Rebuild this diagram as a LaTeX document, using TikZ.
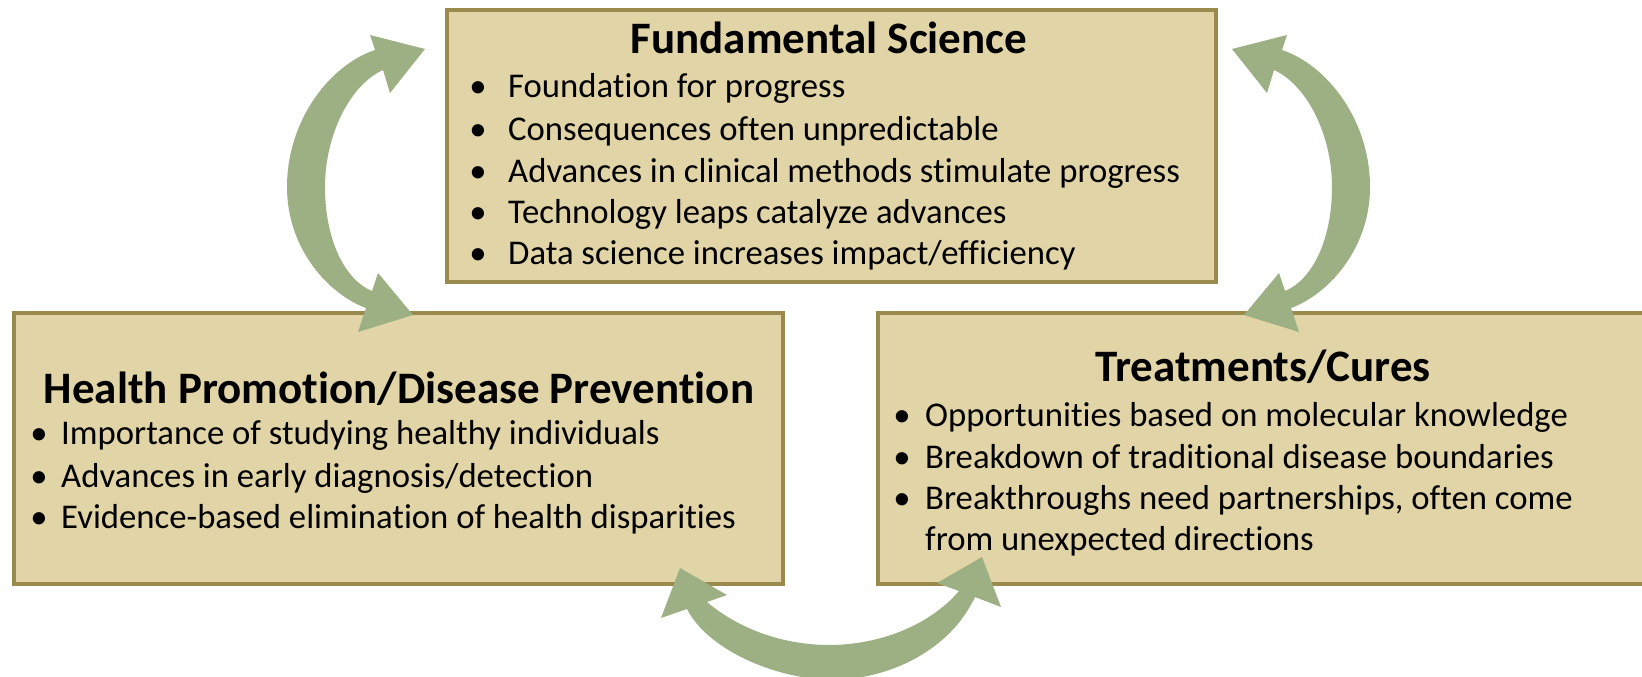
\documentclass[tikz,border=0pt]{standalone}
\usepackage{fontspec}
\setmainfont{Carlito}[Ligatures=NoCommon]
\definecolor{boxfill}{RGB}{225,212,166}
\definecolor{boxline}{RGB}{155,138,78}
\definecolor{arrgreen}{RGB}{156,176,132}
\tikzset{
  box/.style={draw=boxline, line width=4pt, fill=boxfill, minimum width=769pt, minimum height=271pt, inner sep=0pt},
  ttl/.style={anchor=base, inner sep=0pt, font=\fontsize{45}{54}\selectfont\bfseries},
  bul/.style={anchor=base, inner sep=0pt, font=\fontsize{34.7}{42}\selectfont},
  itm/.style={anchor=base west, inner sep=0pt, font=\fontsize{34.7}{42}\selectfont},
  arr/.style={fill=arrgreen, draw=none}
}
\newcommand\sidearrow{%
  (425,49) -- (370,35) -- (375,50) .. controls (330,65) and (287,120) .. (287,187)
  .. controls (287,250) and (330,295) .. (366,308) -- (358,332) -- (413,315) -- (378,273)
  -- (372,291) .. controls (345,280) and (325,240) .. (325,187)
  .. controls (325,135) and (350,85) .. (383,70) -- (390,93) -- cycle}
\begin{document}
\begin{tikzpicture}[x=1pt,y=-1pt]
\clip (0,0) rectangle (1642,677);
\fill[white] (0,0) rectangle (1642,677);
% boxes
\node[box] (fs) at (831.5,146) {};
\node[box] (hp) at (398.5,448.5) {};
\node[box] (tc) at (1262.5,448.5) {};
% top box text
\node[ttl] (fst) at (829,54) {Fundamental Science};
\node[bul] (fsb1) at (478,98) {•};
\node[itm] (fs1) at (508,98) {Foundation for progress};
\node[bul] (fsb2) at (478,140) {•};
\node[itm] (fs2) at (508,140) {Consequences often unpredictable};
\node[bul] (fsb3) at (478,182) {•};
\node[itm] (fs3) at (508,182) {Advances in clinical methods stimulate progress};
\node[bul] (fsb4) at (478,223) {•};
\node[itm] (fs4) at (508,223) {Technology leaps catalyze advances};
\node[bul] (fsb5) at (478,264) {•};
\node[itm] (fs5) at (508,264) {Data science increases impact/efficiency};
% left box text
\node[ttl] (hpt) at (399,403) {Health Promotion/Disease Prevention};
\node[bul] (hpb1) at (39,444) {•};
\node[itm] (hp1) at (61,444) {Importance of studying healthy individuals};
\node[bul] (hpb2) at (39,487) {•};
\node[itm] (hp2) at (61,487) {Advances in early diagnosis/detection};
\node[bul] (hpb3) at (39,528) {•};
\node[itm] (hp3) at (61,528) {Evidence-based elimination of health disparities};
% right box text
\node[ttl] (tct) at (1263,381) {Treatments/Cures};
\node[bul] (tcb1) at (902,426) {•};
\node[itm] (tc1) at (925,426) {Opportunities based on molecular knowledge};
\node[bul] (tcb2) at (902,468) {•};
\node[itm] (tc2) at (925,468) {Breakdown of traditional disease boundaries};
\node[bul] (tcb3) at (902,509) {•};
\node[itm] (tc3) at (925,509) {Breakthroughs need partnerships, often come};
\node[itm] (tc4) at (925,550) {from unexpected directions};
% arrows
\fill[arr] \sidearrow;
\begin{scope}[xshift=1657pt,xscale=-1]
\fill[arr] \sidearrow;
\end{scope}
\fill[arr] (680,568) -- (727,595) -- (707,602) .. controls (740,630) and (785,645) .. (829,645)
  .. controls (880,645) and (930,625) .. (959,591) -- (937,583) -- (982,557) -- (1001,607)
  -- (975,597) .. controls (950,650) and (890,680) .. (829,680)
  .. controls (765,677) and (705,645) .. (687,609) -- (661,618) -- cycle;
\end{tikzpicture}
\end{document}
